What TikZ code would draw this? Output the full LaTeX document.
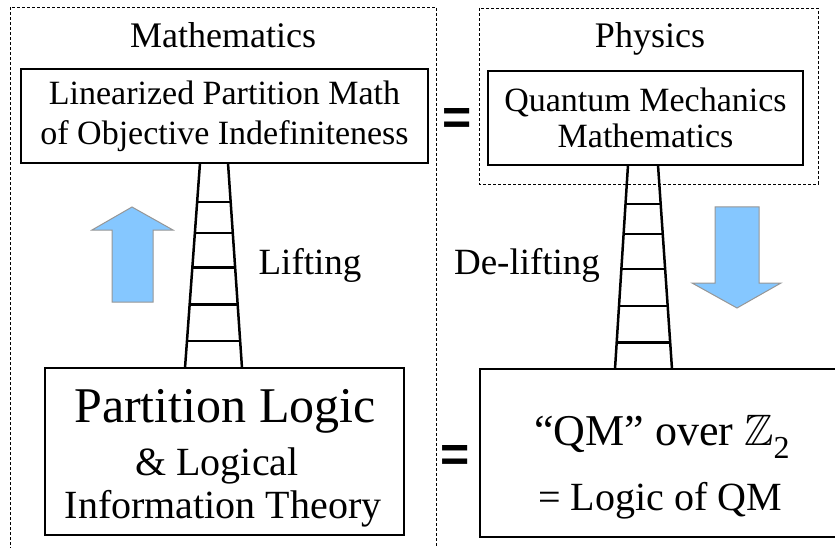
\documentclass[tikz,border=0pt]{standalone}
\usepackage{amssymb}
\usepackage{fontspec}
\usetikzlibrary{calc}
\setmainfont{Liberation Serif}
\newfontfamily\eqfont{Liberation Sans}
\definecolor{arrowblue}{RGB}{133,199,255}
\definecolor{arrowedge}{RGB}{150,150,150}
\begin{document}
\begin{tikzpicture}[x=1pt,y=-1pt,
  box/.style={draw, line width=2.5pt, inner sep=0pt, align=center},
  region/.style={draw, dashed, dash pattern=on 3pt off 2pt, line width=0.7pt},
  rail/.style={line width=2.5pt},
  rung/.style={line width=2.2pt},
  bigarrow/.style={fill=arrowblue, draw=arrowedge, line width=1pt},
  eqsign/.style={font=\eqfont\bfseries\fontsize{50}{50}\selectfont, inner sep=0pt},
  title/.style={font=\fontsize{36}{40}\selectfont, inner sep=0pt, anchor=base},
  lab/.style={font=\fontsize{37}{40}\selectfont, inner sep=0pt, anchor=base},
  line/.style={inner sep=0pt, anchor=base}]
\useasboundingbox (0,0) rectangle (835,548);
% dashed regions
\draw[region] (10,560) -- (10,7) -- (436,7) -- (436,560);
\draw[region] (479,8) rectangle (818,184);
% titles
\node[title] (math) at (223,48) {Mathematics};
\node[title] (phys) at (650,48) {Physics};
% top boxes
\node[box, minimum width=407, minimum height=94, font=\fontsize{34}{40}\selectfont] (tl) at (224.5,116)
  {Linearized Partition Math\\of Objective Indefiniteness};
\node[box, minimum width=315, minimum height=94, font=\fontsize{34}{36}\selectfont] (tr) at (645.5,118)
  {Quantum Mechanics\\Mathematics};
% bottom boxes
\node[box, minimum width=359, minimum height=167] (bl) at (224.5,451.5) {};
\node[line, font=\fontsize{50}{53}\selectfont] (bl1) at (225,422) {Partition Logic};
\node[line, font=\fontsize{40}{43}\selectfont] (bl2) at (217,475) {\& Logical};
\node[line, font=\fontsize{40}{43}\selectfont] (bl3) at (223,518) {Information Theory};
\node[box, minimum width=364, minimum height=168] (br) at (662,453) {};
\node[line, font=\fontsize{44}{50}\selectfont] (br1) at (662,445)
  {“QM” over $\mathbb{Z}$\raisebox{-0.3em}{\fontsize{32}{32}\selectfont 2}};
\node[line, font=\fontsize{40}{44}\selectfont] (br2) at (660,510) {= Logic of QM};
% equals signs
\node[eqsign] (eq1) at (457,122) {=};
\node[eqsign] (eq2) at (455,458) {=};
% left ladder
\coordinate (la1) at (200,163);
\coordinate (la2) at (228,163);
\coordinate (lb1) at (185,368);
\coordinate (lb2) at (242,368);
\draw[rail] (la1) -- (lb1);
\draw[rail] (la2) -- (lb2);
\foreach \t in {0.19,0.34,0.51,0.69,0.87}
  \draw[rung] ($(la1)!\t!(lb1)$) -- ($(la2)!\t!(lb2)$);
% right ladder
\coordinate (ra1) at (628,165);
\coordinate (ra2) at (658,165);
\coordinate (rb1) at (615,369);
\coordinate (rb2) at (672,369);
\draw[rail] (ra1) -- (rb1);
\draw[rail] (ra2) -- (rb2);
\foreach \t in {0.19,0.34,0.51,0.69,0.87}
  \draw[rung] ($(ra1)!\t!(rb1)$) -- ($(ra2)!\t!(rb2)$);
% block arrows
\draw[bigarrow] (132,207) -- (173,230) -- (153,230) -- (153,302) -- (112,302) -- (112,230) -- (92,230) -- cycle;
\draw[bigarrow] (715,207) -- (759,207) -- (759,283) -- (781,283) -- (737,308) -- (692,283) -- (715,283) -- cycle;
% labels
\node[lab] (lift) at (310,274) {Lifting};
\node[lab] (delift) at (527,274) {De-lifting};
\end{tikzpicture}
\end{document}
